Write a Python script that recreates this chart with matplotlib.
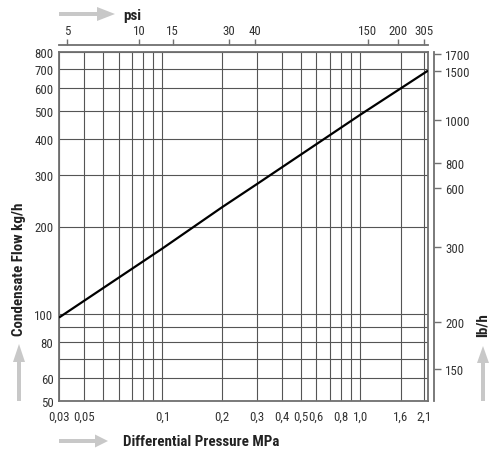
import math
import matplotlib
matplotlib.use('Agg')
import matplotlib.pyplot as plt
from matplotlib import font_manager as fm
from matplotlib.textpath import TextPath
from matplotlib.ticker import NullLocator, FixedLocator, FixedFormatter
from matplotlib.patches import Polygon

# ---------------- data ----------------
pressure_mpa = [0.03, 0.1, 0.2, 0.3, 1.0, 2.2]
flow_kgh = [97, 168, 233, 280, 486, 690]

x_grid = [0.03, 0.04, 0.05, 0.06, 0.07, 0.08, 0.09, 0.1, 0.2, 0.3, 0.4, 0.5,
          0.6, 0.7, 0.8, 0.9, 1.0, 1.6, 2.1]
x_labels = ['0,03', '0,05', '', '', '', '', '', '0,1', '0,2', '0,3', '0,4', '0,5',
            '0,6', '', '0,8', '', '1,0', '1,6', '2,1']

y_grid = [50, 60, 70, 80, 90, 100, 200, 300, 400, 500, 600, 700, 800]
y_labels = ['50', '60', '', '80', '', '100', '200', '300', '400', '500', '600', '700', '800']

psi_labels = ['5', '10', '15', '30', '40', '150', '200', '305']
psi_pos_mpa = [0.0330, 0.0764, 0.1126, 0.2169, 0.2936, 1.092, 1.556, 2.102]

lbh_labels = ['1700', '1500', '1000', '800', '600', '300', '200', '150']
lbh_pos_kgh = [787, 688, 465, 330, 271, 170.5, 94, 64.5]

XTITLE = 'Differential Pressure MPa'
YTITLE = 'Condensate Flow kg/h'


# ---------------- font choice (narrow sans, measured) ----------------
BASES = ('Liberation Sans', 'DejaVu Sans', 'Noto Sans', 'Roboto', 'Open Sans', 'Lato', 'Inter')
WIDTH_WORDS = {'condensed', 'semicondensed', 'extracondensed', 'narrow', 'semi', 'extra', 'cond', 'display'}


def family_ok(name):
    for b in BASES:
        if name == b or name.startswith(b + ' '):
            rest = name[len(b):].strip()
            return all(w.lower() in WIDTH_WORDS for w in rest.split())
    return False


def wnum(w):
    if isinstance(w, str):
        return fm.weight_dict.get(w, 400)
    return w


def ext(s, fname):
    e = TextPath((0, 0), s, size=100, prop=fm.FontProperties(fname=fname)).get_extents()
    return e.width, e.height


groups = {}
for f in fm.fontManager.ttflist:
    if f.style != 'normal' or not family_ok(f.name):
        continue
    key = (f.name, str(f.stretch))
    w = wnum(f.weight)
    g = groups.setdefault(key, {})
    if abs(w - 400) <= 50:
        g.setdefault('reg', f.fname)
    elif abs(w - 700) <= 50:
        g.setdefault('bold', f.fname)

best = None
for key, g in groups.items():
    if 'reg' not in g or 'bold' not in g:
        continue
    try:
        w1, _ = ext('0,03', g['reg'])
        _, h1 = ext('0', g['reg'])
        w2, _ = ext(XTITLE, g['bold'])
        _, h2 = ext('D', g['bold'])
        score = abs(math.log((w1 / h1) / 2.22)) + abs(math.log((w2 / h2) / 15.5))
    except Exception:
        continue
    if best is None or score < best[0]:
        best = (score, g['reg'], g['bold'], w1, w2)

if best:
    _, REG, BOLD, w1, w2 = best
    size_reg = 20.0 * 72 / w1
    size_bold = 155.0 * 72 / w2
    FP_REG = fm.FontProperties(fname=REG, size=size_reg)
    FP_BOLD = fm.FontProperties(fname=BOLD, size=size_bold)
else:
    FP_REG = fm.FontProperties(family='DejaVu Sans', size=7.5)
    FP_BOLD = fm.FontProperties(family='DejaVu Sans', weight='bold', size=8.5)

# ---------------- figure ----------------
W, H = 500, 456
fig = plt.figure(figsize=(W / 100, H / 100), dpi=100)
L, R, T, B = 59, 428, 53, 402
ax = fig.add_axes([L / W, (H - B) / H, (R - L) / W, (B - T) / H])
ax.set_xscale('log')
ax.set_yscale('log')
ax.set_xlim(0.03, 2.2)
ax.set_ylim(50, 800)

GRID_C = '#555555'
FRAME_C = '#707070'
TEXT_C = '#333333'

ax.xaxis.set_major_locator(FixedLocator(x_grid))
ax.xaxis.set_major_formatter(FixedFormatter(x_labels))
ax.yaxis.set_major_locator(FixedLocator(y_grid))
ax.yaxis.set_major_formatter(FixedFormatter(y_labels))
ax.xaxis.set_minor_locator(NullLocator())
ax.yaxis.set_minor_locator(NullLocator())
ax.tick_params(axis='both', length=0, labelcolor=TEXT_C)
ax.tick_params(axis='x', pad=6)
ax.tick_params(axis='y', pad=4)
ax.grid(True, color=GRID_C, linewidth=0.8)
for s in ax.spines.values():
    s.set_color(FRAME_C)
    s.set_linewidth(1.3)

ax.plot(pressure_mpa, flow_kgh, color='black', linewidth=1.6, zorder=5,
        solid_capstyle='butt')

# top psi axis
secx = ax.secondary_xaxis(1 + 7 / (B - T))
secx.xaxis.set_major_locator(FixedLocator(psi_pos_mpa))
secx.xaxis.set_major_formatter(FixedFormatter(psi_labels))
secx.xaxis.set_minor_locator(NullLocator())
secx.tick_params(length=4, width=1, pad=2, labelcolor=TEXT_C, color=FRAME_C)
secx.spines['top'].set_color(FRAME_C)
secx.spines['top'].set_linewidth(1.3)

# right lb/h axis
secy = ax.secondary_yaxis(1 + 6 / (R - L))
secy.yaxis.set_major_locator(FixedLocator(lbh_pos_kgh))
secy.yaxis.set_major_formatter(FixedFormatter(lbh_labels))
secy.yaxis.set_minor_locator(NullLocator())
secy.tick_params(length=5, width=1, pad=3, labelcolor=TEXT_C, color=FRAME_C)
secy.spines['right'].set_color(FRAME_C)
secy.spines['right'].set_linewidth(1.3)

for a in (ax.xaxis, ax.yaxis, secx.xaxis, secy.yaxis):
    for lab in a.get_ticklabels():
        lab.set_fontproperties(FP_REG)

# overlay for arrows and titles
ov = fig.add_axes([0, 0, 1, 1], zorder=-1)
ov.set_xlim(0, W)
ov.set_ylim(H, 0)
ov.axis('off')
ARROW_C = '#c8c8c8'


def harrow(x0, x1, y, head_len, head_h, shaft):
    pts = [(x0, y - shaft / 2), (x1 - head_len, y - shaft / 2), (x1 - head_len, y - head_h / 2),
           (x1, y), (x1 - head_len, y + head_h / 2), (x1 - head_len, y + shaft / 2),
           (x0, y + shaft / 2)]
    ov.add_patch(Polygon(pts, closed=True, color=ARROW_C, lw=0))


def varrow(x, y0, y1, head_len, head_w, shaft):
    pts = [(x - shaft / 2, y0), (x - shaft / 2, y1 + head_len), (x - head_w / 2, y1 + head_len),
           (x, y1), (x + head_w / 2, y1 + head_len), (x + shaft / 2, y1 + head_len),
           (x + shaft / 2, y0)]
    ov.add_patch(Polygon(pts, closed=True, color=ARROW_C, lw=0))


harrow(59, 115, 15, 18, 14, 4)
harrow(59, 108, 442, 13, 13, 4)
varrow(19, 402, 345, 18, 12, 4)
varrow(483, 402, 347, 17, 12, 4)

ov.text(123, 16, 'psi', fontproperties=FP_BOLD, color='#222222',
        ha='left', va='center')
ov.text(123, 442, XTITLE, fontproperties=FP_BOLD,
        color='#222222', ha='left', va='center')
ov.text(19, 269, YTITLE, fontproperties=FP_BOLD,
        color='#222222', ha='center', va='center', rotation=90)
ov.text(483, 325, 'lb/h', fontproperties=FP_BOLD,
        color='#222222', ha='center', va='center', rotation=90)

fig.savefig('out.png', dpi=100)
